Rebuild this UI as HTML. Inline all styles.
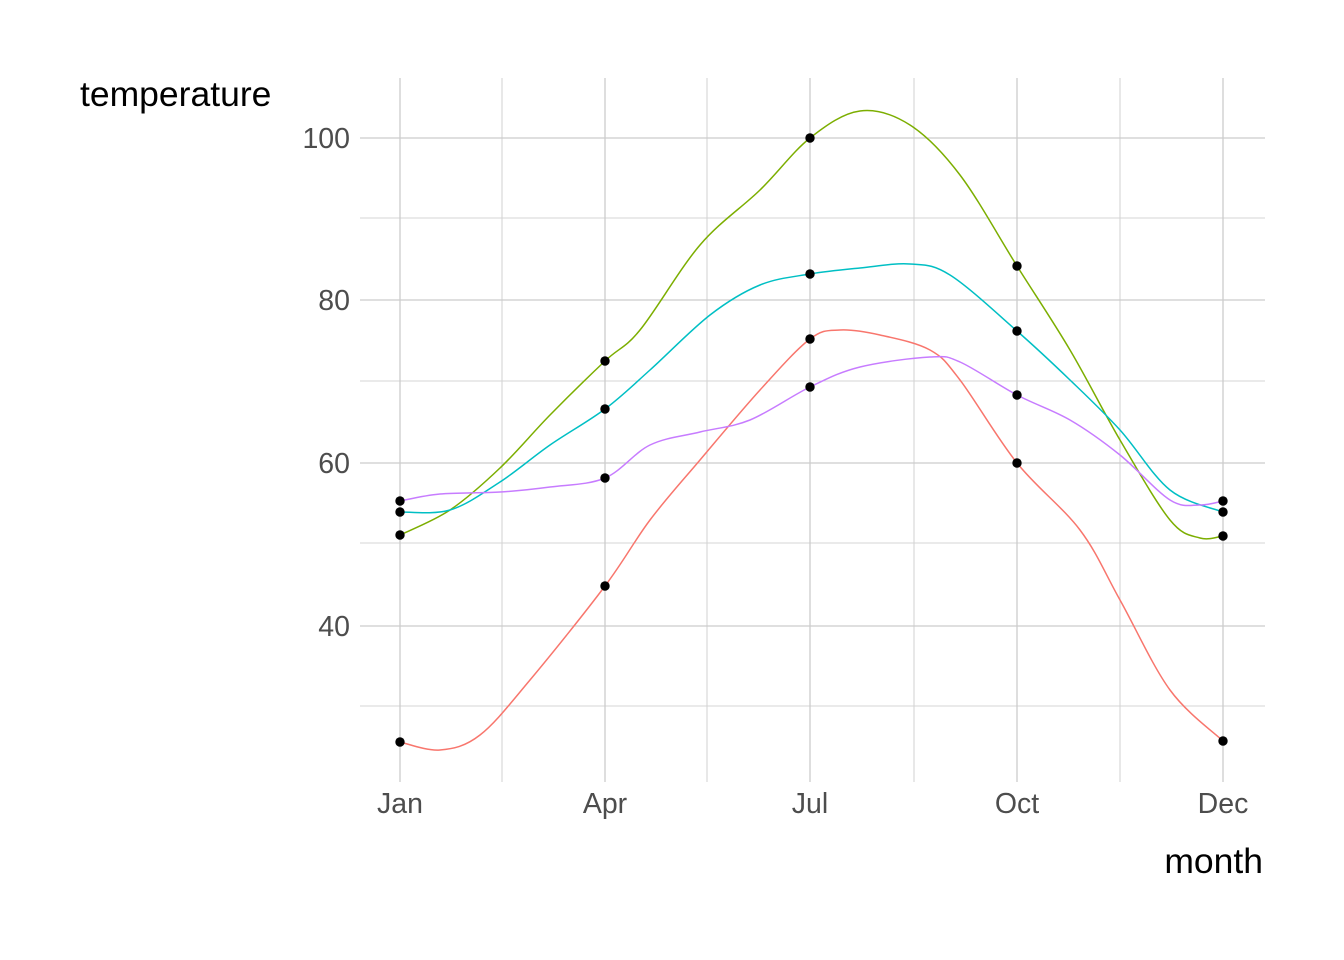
<!DOCTYPE html>
<html><head><meta charset="utf-8"><style>
html,body{margin:0;padding:0;background:#fff;}
svg{display:block;font-family:"Liberation Sans",sans-serif;}
</style></head><body>
<svg id="s" width="1344" height="960" viewBox="0 0 1344 960" xmlns="http://www.w3.org/2000/svg">
<rect width="1344" height="960" fill="#fff"/>
<g stroke="#d4d4d4" stroke-width="1.1">
<line x1="360" x2="1265" y1="218" y2="218"/>
<line x1="360" x2="1265" y1="381" y2="381"/>
<line x1="360" x2="1265" y1="543" y2="543"/>
<line x1="360" x2="1265" y1="706" y2="706"/>
<line x1="502" x2="502" y1="78" y2="782"/>
<line x1="707" x2="707" y1="78" y2="782"/>
<line x1="914" x2="914" y1="78" y2="782"/>
<line x1="1120" x2="1120" y1="78" y2="782"/>
</g>
<g stroke="#cccccc" stroke-width="1.3">
<line x1="360" x2="1265" y1="138" y2="138"/>
<line x1="360" x2="1265" y1="300" y2="300"/>
<line x1="360" x2="1265" y1="463" y2="463"/>
<line x1="360" x2="1265" y1="626" y2="626"/>
<line x1="400" x2="400" y1="78" y2="782"/>
<line x1="605" x2="605" y1="78" y2="782"/>
<line x1="810" x2="810" y1="78" y2="782"/>
<line x1="1017" x2="1017" y1="78" y2="782"/>
<line x1="1223" x2="1223" y1="78" y2="782"/>
</g>
<g id="curves" fill="none" stroke-width="1.5"></g>
<g id="pts" fill="#000"></g>
<g fill="#4d4d4d" font-size="28.5">
<text x="350" y="148" text-anchor="end">100</text>
<text x="350" y="310" text-anchor="end">80</text>
<text x="350" y="473" text-anchor="end">60</text>
<text x="350" y="636" text-anchor="end">40</text>
<text x="400" y="813" text-anchor="middle">Jan</text>
<text x="605" y="813" text-anchor="middle">Apr</text>
<text x="810" y="813" text-anchor="middle">Jul</text>
<text x="1017" y="813" text-anchor="middle">Oct</text>
<text x="1223" y="813" text-anchor="middle">Dec</text>
</g>
<text x="80" y="106" font-size="35.5" fill="#000">temperature</text>
<text x="1263" y="873" font-size="35.5" fill="#000" text-anchor="end">month</text>
</svg>
<script>
var series=[
["#F8766D",[[400,742],[440,750],[480,735],[530,680],[605,586],[650,520],[700,460],[760,390],[810,339],[840,330],[880,335],[930,350],[960,380],[1017,463],[1080,530],[1120,600],[1170,690],[1223,741]]],
["#7CAE00",[[400,535],[450,510],[500,468],[550,415],[605,361],[640,330],[700,245],[760,190],[810,138],[860,111],[910,125],[960,175],[1017,266],[1070,350],[1120,440],[1170,520],[1200,538],[1223,536]]],
["#00BFC4",[[400,512],[450,510],[500,482],[550,445],[605,409],[650,370],[710,315],[760,285],[810,274],[860,268],[910,264],[950,275],[1017,331],[1070,380],[1120,430],[1170,490],[1223,512]]],
["#C77CFF",[[400,501],[440,494],[500,492],[550,487],[605,478],[650,445],[700,432],[750,420],[810,387],[860,367],[930,357],[960,362],[1017,395],[1070,420],[1120,455],[1170,500],[1200,505],[1223,501]]]
];
var ns="http://www.w3.org/2000/svg";
var cg=document.getElementById("curves"),pg=document.getElementById("pts");
series.forEach(function(s){
 var p=s[1],d="M"+p[0][0]+","+p[0][1];
 for(var i=0;i<p.length-1;i++){
  var p0=p[i-1]||p[i],p1=p[i],p2=p[i+1],p3=p[i+2]||p2;
  var c1x=p1[0]+(p2[0]-p0[0])/6,c1y=p1[1]+(p2[1]-p0[1])/6;
  var c2x=p2[0]-(p3[0]-p1[0])/6,c2y=p2[1]-(p3[1]-p1[1])/6;
  d+=" C"+c1x+","+c1y+" "+c2x+","+c2y+" "+p2[0]+","+p2[1];
 }
 var e=document.createElementNS(ns,"path");e.setAttribute("d",d);e.setAttribute("stroke",s[0]);cg.appendChild(e);
});
[[400,742],[605,586],[810,339],[1017,463],[1223,741],
[400,535],[605,361],[810,138],[1017,266],[1223,536],
[400,512],[605,409],[810,274],[1017,331],[1223,512],
[400,501],[605,478],[810,387],[1017,395],[1223,501]].forEach(function(q){
 var c=document.createElementNS(ns,"circle");c.setAttribute("cx",q[0]);c.setAttribute("cy",q[1]);c.setAttribute("r",4.7);pg.appendChild(c);
});
</script>
</body></html>
